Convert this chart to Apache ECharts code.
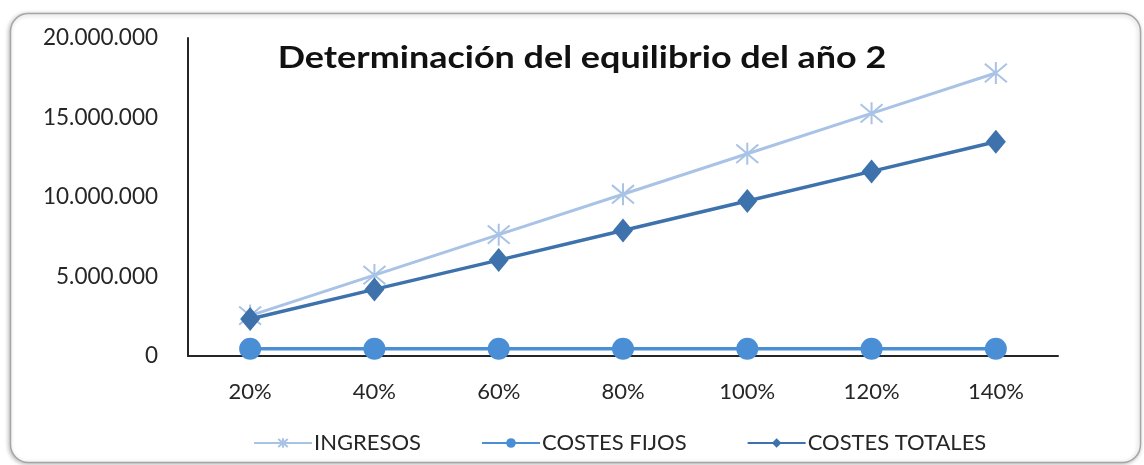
<!DOCTYPE html>
<html>
<head>
<meta charset="utf-8">
<style>
  html, body { margin: 0; padding: 0; background: #ffffff; }
  #chart { width: 1144px; height: 465px; }
</style>
<script src="https://cdn.jsdelivr.net/npm/echarts@6/dist/echarts.min.js"></script>
</head>
<body>
<div id="chart"></div>
<script>
// Activity levels (share of the reference volume)
const categories = ['20%', '40%', '60%', '80%', '100%', '120%', '140%'];

// Income, fixed costs and total costs for year 2
const ingresos = [2540000, 5090000, 7630000, 10170000, 12720000, 15260000, 17800000];
const costesFijos = [450000, 450000, 450000, 450000, 450000, 450000, 450000];
const costesTotales = [2330000, 4190000, 6030000, 7890000, 9750000, 11610000, 13470000];

const titleText = 'Determinación del equilibrio del año 2';
const seriesNames = ['INGRESOS', 'COSTES FIJOS', 'COSTES TOTALES'];

const FONT = 'Lato, "Open Sans", sans-serif';

// Asterisk marker (X plus a vertical stroke)
const starPath = 'path://M0,0 L10,10 M10,0 L0,10 M5,-1 L5,11';

function fmt(v) {
  return String(v).replace(/\B(?=(\d{3})+(?!\d))/g, '.');
}

const chart = echarts.init(document.getElementById('chart'), null, { renderer: 'canvas' });

chart.setOption({
  backgroundColor: '#ffffff',
  animation: false,
  graphic: [
    {
      type: 'rect',
      shape: { x: 10.5, y: 13.5, width: 1130, height: 449, r: 18 },
      style: {
        fill: '#ffffff',
        stroke: '#a6a6a6',
        lineWidth: 1.5,
        shadowBlur: 4,
        shadowOffsetX: -1,
        shadowOffsetY: 1,
        shadowColor: 'rgba(0,0,0,0.25)'
      },
      z: -10
    },
    {
      // chart title, slightly widened
      type: 'text',
      x: 582,
      y: 58,
      scaleX: 1.16,
      style: {
        text: titleText,
        fontFamily: FONT,
        fontWeight: 'bold',
        fontSize: 31,
        fill: '#111111',
        textAlign: 'center',
        textVerticalAlign: 'middle'
      },
      z: 10
    }
  ],
  legend: {
    data: seriesNames,
    left: 248,
    top: 427,
    itemWidth: 58,
    itemHeight: 12,
    itemGap: 60,
    textStyle: {
      fontFamily: FONT,
      fontSize: 22,
      color: '#262626',
      padding: [0, 0, 0, -3]
    }
  },
  grid: {
    left: 188,
    right: 86,
    top: 38,
    bottom: 109,
    containLabel: false
  },
  xAxis: {
    type: 'category',
    data: categories,
    boundaryGap: true,
    axisLine: { show: true, lineStyle: { color: '#262626', width: 2 } },
    axisTick: { show: false },
    axisLabel: {
      margin: 25,
      fontFamily: FONT,
      fontSize: 22,
      color: '#262626'
    },
    splitLine: { show: false }
  },
  yAxis: {
    type: 'value',
    min: 0,
    max: 20000000,
    interval: 5000000,
    axisLine: { show: true, lineStyle: { color: '#262626', width: 2 } },
    axisTick: { show: false },
    axisLabel: {
      margin: 30,
      fontFamily: FONT,
      fontSize: 22.5,
      color: '#262626',
      formatter: fmt
    },
    splitLine: { show: false }
  },
  series: [
    {
      name: seriesNames[0],
      type: 'line',
      data: ingresos,
      symbol: starPath,
      symbolSize: 22,
      lineStyle: { color: '#a9c3e6', width: 3 },
      itemStyle: { color: 'rgba(0,0,0,0)', borderColor: '#a9c3e6', borderWidth: 2 },
      z: 2
    },
    {
      name: seriesNames[1],
      type: 'line',
      data: costesFijos,
      symbol: 'circle',
      symbolSize: 22,
      lineStyle: { color: '#4a8fd6', width: 3.5 },
      itemStyle: { color: '#4a8fd6' },
      z: 3
    },
    {
      name: seriesNames[2],
      type: 'line',
      data: costesTotales,
      symbol: 'diamond',
      symbolSize: [20, 24],
      lineStyle: { color: '#3d72ad', width: 3.5 },
      itemStyle: { color: '#3d72ad' },
      z: 4
    }
  ]
});
</script>
</body>
</html>
